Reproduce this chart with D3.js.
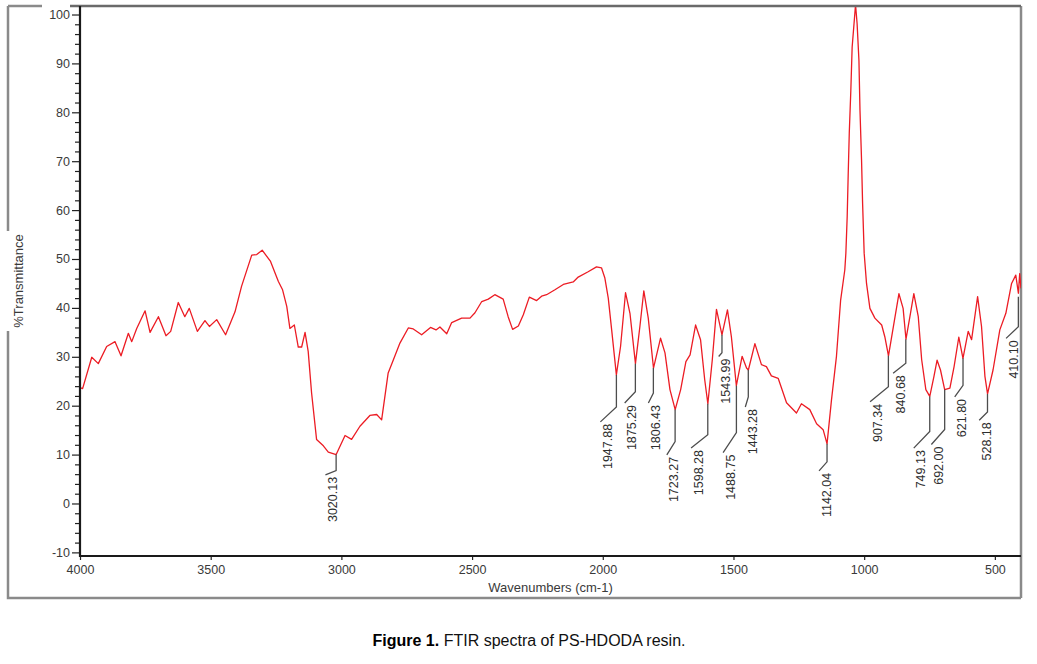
<!DOCTYPE html>
<html>
<head>
<meta charset="utf-8">
<script src="https://cdn.jsdelivr.net/npm/d3@7"></script>
<style>
  body { margin: 0; background: #fff; }
  svg { display: block; }
</style>
</head>
<body>
<script>
// FTIR spectrum, values (wavenumber cm-1, %T)
var wavenumbers = [4000, 3990, 3955, 3930, 3898, 3866, 3843, 3815, 3802, 3783, 3751, 3732, 3700, 3671, 3653,
  3624, 3599, 3582, 3551, 3522, 3505, 3477, 3443, 3407, 3382, 3343, 3324, 3303, 3271, 3241, 3225, 3209,
  3197, 3180, 3165, 3152, 3139, 3127, 3114, 3095, 3069, 3050, 3020, 2986, 2961, 2929, 2891, 2865, 2846,
  2821, 2801, 2776, 2744, 2725, 2693, 2659, 2638, 2623, 2597, 2578, 2540, 2508, 2489, 2463, 2438, 2413,
  2381, 2362, 2345, 2323, 2304, 2281, 2253, 2234, 2215, 2183, 2151, 2113, 2094, 2056, 2024, 2005, 1992,
  1979, 1966, 1948, 1932, 1913, 1896, 1875, 1858, 1843, 1826, 1806, 1779, 1762, 1743, 1723, 1702, 1682,
  1666, 1645, 1626, 1610, 1598, 1581, 1565, 1544, 1523, 1508, 1489, 1467, 1450, 1443, 1418, 1393, 1374,
  1355, 1329, 1297, 1259, 1240, 1208, 1182, 1157, 1142, 1125, 1106, 1090, 1074, 1070, 1065, 1061, 1057,
  1051, 1046, 1033, 1027, 1020, 1016, 1010, 1006, 1000, 991, 978, 959, 933, 921, 907, 886, 867, 851, 840,
  825, 810, 793, 780, 764, 749, 733, 721, 708, 692, 672, 656, 638, 622, 602, 589, 566, 551, 538, 528,
  507, 481, 458, 436, 420, 410, 405, 400];

var transmittance = [23.7, 23.5, 29.9, 28.6, 32.1, 33.1, 30.2, 34.8, 33.1, 35.8, 39.4, 35.0, 38.2, 34.3, 35.2,
  41.1, 38.2, 39.9, 35.2, 37.4, 36.2, 37.6, 34.5, 39.2, 44.4, 50.8, 50.9, 51.8, 49.5, 45.4, 43.7, 40.3,
  35.8, 36.5, 32.0, 32.0, 35.0, 31.1, 22.6, 13.1, 11.8, 10.5, 10.0, 13.9, 13.1, 15.8, 18.0, 18.2, 17.1,
  26.7, 29.4, 32.8, 35.9, 35.7, 34.5, 36.0, 35.5, 36.1, 34.7, 37.0, 37.9, 37.9, 39.0, 41.3, 41.8, 42.7,
  41.8, 38.2, 35.6, 36.3, 38.6, 42.2, 41.5, 42.4, 42.7, 43.7, 44.8, 45.3, 46.3, 47.4, 48.4, 48.2, 46.1,
  42.0, 35.5, 26.3, 32.1, 43.1, 38.9, 28.6, 36.2, 43.5, 37.9, 27.7, 33.8, 30.8, 23.3, 19.2, 23.3, 29.0,
  30.4, 36.5, 33.5, 25.3, 20.4, 29.4, 39.7, 34.5, 39.6, 34.1, 24.1, 30.1, 27.7, 27.3, 32.7, 28.4, 28.0,
  26.1, 25.6, 20.6, 18.5, 20.4, 19.2, 16.3, 15.1, 12.2, 21.2, 30.1, 41.6, 47.8, 51.2, 58.6, 67.5, 75.7,
  84.5, 93.3, 102.0, 98.1, 90.6, 80.4, 70.2, 61.4, 51.2, 45.0, 39.9, 37.9, 36.5, 34.1, 30.2, 36.9, 42.9, 39.9, 33.6,
  38.2, 42.9, 38.2, 29.4, 23.3, 21.9, 26.0, 29.3, 27.3, 23.3, 23.6, 28.0, 34.0, 29.7, 35.2, 33.5, 42.3, 36.2, 26.0, 22.4,
  27.3, 35.5, 38.9, 45.0, 46.7, 43.0, 47.0, 44.0];

// labelled peaks
var peakWavenumbers = [3020.13, 1947.88, 1875.29, 1806.43, 1723.27, 1598.28, 1543.99, 1488.75, 1443.28,
  1142.04, 907.34, 840.68, 749.13, 692.00, 621.80, 528.18, 410.10];
var peakTransmittance = [10.0, 26.3, 28.6, 27.7, 19.2, 20.4, 34.5, 24.1, 27.3,
  12.2, 30.2, 33.6, 21.9, 23.3, 29.7, 22.4, 42.3];

// axis ticks
var xTickValues = [4000, 3500, 3000, 2500, 2000, 1500, 1000, 500];
var yTickValues = [-10, 0, 10, 20, 30, 40, 50, 60, 70, 80, 90, 100];

var width = 1037, height = 664;
var plot = { left: 80, right: 1021, top: 6, bottom: 556 };
var font = "'Liberation Sans', Arial, sans-serif";

// leader line shape per label: [vertical drop, diagonal dx, diagonal dy] in px
var leaderShape = [[16, -10.7, 4.3], [32, -16, 15], [28, -10.7, 11.3], [25, -5, 10], [32, -8.3, 13.3],
  [31, -16.7, 13.3], [18, -3.3, 3.7], [47, -13.3, 20], [27, -3, 10], [18, -8, 9], [31, -18.3, 15],
  [24, -12.7, 10], [35, -16, 16.7], [40, -13.3, 15], [27, -8.3, 11.7], [18, -8.3, 8.3], [30, -12.3, 11.7]];

var svg = d3.select("body").append("svg")
  .attr("width", width)
  .attr("height", height);

var x = d3.scaleLinear().domain([4000, 400]).range([plot.left, plot.right]);
var y = d3.scaleLinear().domain([-10.74, 101.74]).range([plot.bottom, plot.top]);

// plain integer labels, hyphen minus like the source
var plainFormat = function (d) { return String(d); };

// outer frame (broken where the y title sits)
var frame = svg.append("g")
  .attr("fill", "none")
  .attr("stroke", "#8a8a8a")
  .attr("stroke-width", 2.5);
frame.append("path").attr("d", "M8,6H42");
frame.append("path").attr("d", "M8,6V231");
frame.append("path").attr("d", "M8,331V598H" + plot.right);
frame.append("path").attr("d", "M" + plot.right + ",6V598");

svg.append("defs").append("clipPath").attr("id", "clip")
  .append("rect")
  .attr("x", plot.left)
  .attr("y", plot.top)
  .attr("width", plot.right - plot.left)
  .attr("height", plot.bottom - plot.top);

// spectrum
var points = wavenumbers.map(function (w, i) { return [w, transmittance[i]]; });
var line = d3.line()
  .x(function (d) { return x(d[0]); })
  .y(function (d) { return y(d[1]); });

svg.append("path")
  .datum(points)
  .attr("clip-path", "url(#clip)")
  .attr("fill", "none")
  .attr("stroke", "#ec1c24")
  .attr("stroke-width", 1.3)
  .attr("stroke-linejoin", "round")
  .attr("d", line);

// top border of the plot
svg.append("line")
  .attr("x1", 70).attr("x2", plot.right)
  .attr("y1", plot.top).attr("y2", plot.top)
  .attr("stroke", "#6a6a6a")
  .attr("stroke-width", 2.5);

// y axis, major and minor ticks
var minorY = d3.range(-10, 101, 2).filter(function (v) { return v % 10 !== 0; });
svg.append("g")
  .attr("transform", "translate(" + plot.left + ",0)")
  .call(d3.axisLeft(y).tickValues(minorY).tickSize(5).tickFormat(""))
  .call(function (g) { g.select(".domain").remove(); })
  .call(function (g) { g.selectAll("line").attr("stroke", "#222").attr("stroke-width", 1.2); });

svg.append("g")
  .attr("transform", "translate(" + plot.left + ",0)")
  .call(d3.axisLeft(y).tickValues(yTickValues).tickSize(8).tickPadding(2).tickFormat(plainFormat))
  .call(function (g) { g.select(".domain").remove(); })
  .call(function (g) { g.selectAll("line").attr("stroke", "#222").attr("stroke-width", 1.2); })
  .call(function (g) {
    g.selectAll("text")
      .attr("font-family", font)
      .attr("font-size", 12.5)
      .attr("fill", "#3a3a3a");
  });

// x axis
svg.append("g")
  .attr("transform", "translate(0," + plot.bottom + ")")
  .call(d3.axisBottom(x).tickValues(xTickValues).tickSize(4).tickPadding(5).tickFormat(plainFormat))
  .call(function (g) { g.select(".domain").remove(); })
  .call(function (g) { g.selectAll("line").attr("stroke", "#222").attr("stroke-width", 1.2); })
  .call(function (g) {
    g.selectAll("text")
      .attr("font-family", font)
      .attr("font-size", 12.5)
      .attr("fill", "#3a3a3a");
  });

// axis lines drawn over the ticks
svg.append("line")
  .attr("x1", plot.left).attr("x2", plot.left)
  .attr("y1", plot.top).attr("y2", plot.bottom + 1)
  .attr("stroke", "#1a1a1a")
  .attr("stroke-width", 2.2);
svg.append("line")
  .attr("x1", plot.left - 1).attr("x2", plot.right)
  .attr("y1", plot.bottom).attr("y2", plot.bottom)
  .attr("stroke", "#1a1a1a")
  .attr("stroke-width", 2.2);

// axis titles
svg.append("text")
  .attr("x", (plot.left + plot.right) / 2)
  .attr("y", 592)
  .attr("text-anchor", "middle")
  .attr("font-family", font)
  .attr("font-size", 13)
  .attr("fill", "#3a3a3a")
  .text("Wavenumbers (cm-1)");

svg.append("text")
  .attr("transform", "translate(22.5,281) rotate(-90)")
  .attr("text-anchor", "middle")
  .attr("font-family", font)
  .attr("font-size", 13)
  .attr("fill", "#3a3a3a")
  .text("%Transmittance");

// peak labels with leader lines
var peaks = svg.append("g");
peakWavenumbers.forEach(function (w, i) {
  var px = x(w);
  var py = y(peakTransmittance[i]);
  var s = leaderShape[i];
  var ex = px + s[1];
  var ey = py + s[0] + s[2];

  peaks.append("path")
    .attr("d", "M" + px + "," + py + "V" + (py + s[0]) + "L" + ex + "," + ey)
    .attr("fill", "none")
    .attr("stroke", "#4d4d4d")
    .attr("stroke-width", 1.3);

  peaks.append("text")
    .attr("transform", "translate(" + (ex + 11.5) + "," + (ey + 2) + ") rotate(-90)")
    .attr("text-anchor", "end")
    .attr("font-family", font)
    .attr("font-size", 12.5)
    .attr("fill", "#2e2e2e")
    .text(w.toFixed(2));
});

// caption
var caption = svg.append("text")
  .attr("x", 529)
  .attr("y", 646)
  .attr("text-anchor", "middle")
  .attr("font-family", font)
  .attr("font-size", 16)
  .attr("fill", "#111");
caption.append("tspan").attr("font-weight", "bold").attr("fill", "#000").text("Figure 1.");
caption.append("tspan").text(" FTIR spectra of PS-HDODA resin.");
</script>
</body>
</html>
